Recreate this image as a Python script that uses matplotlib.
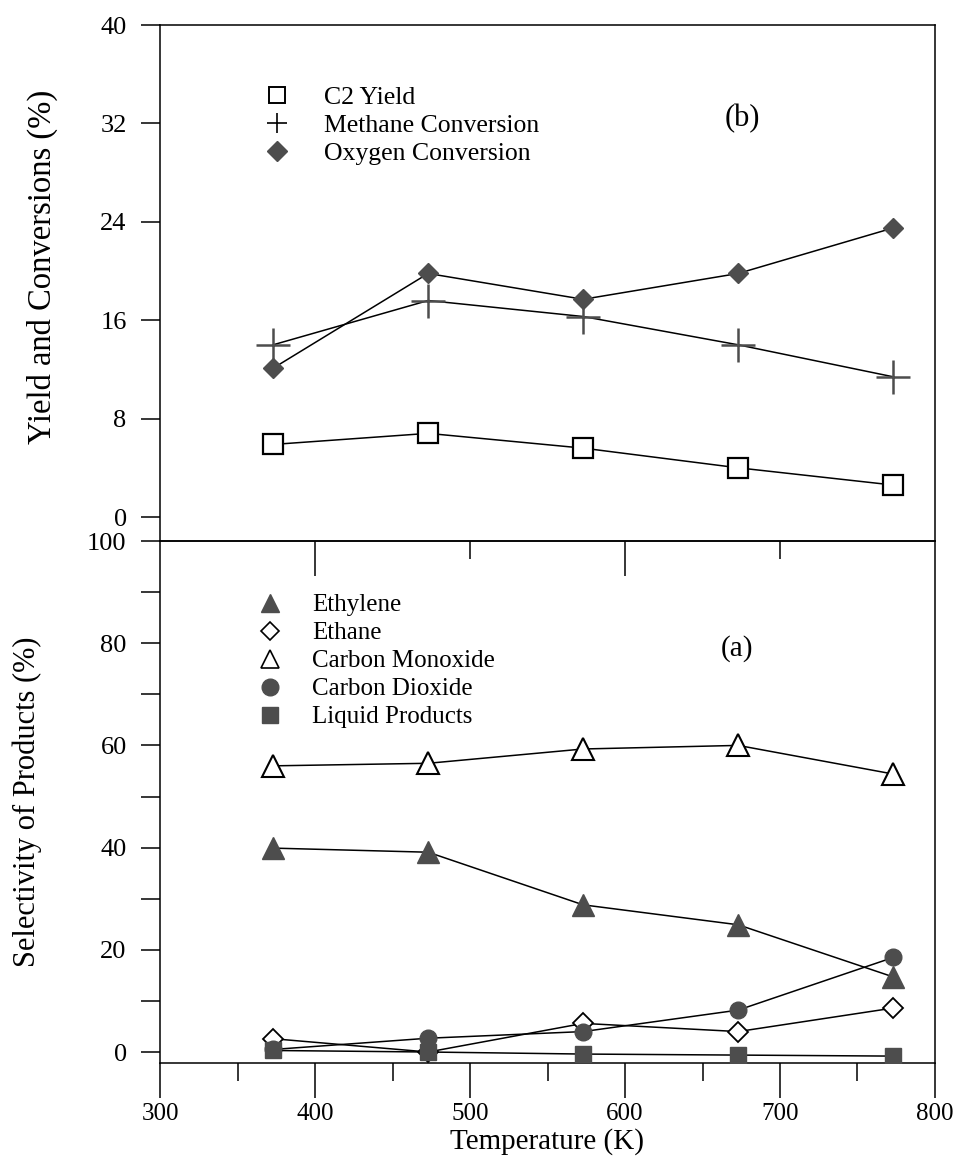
import matplotlib
matplotlib.use("Agg")
import matplotlib.pyplot as plt
from matplotlib.lines import Line2D
from matplotlib.ticker import FixedLocator, FuncFormatter

# ---------------- data ----------------
temperature = [373, 473, 573, 673, 773]

c2_yield = [5.9, 6.8, 5.6, 4.0, 2.6]
methane_conv = [14.0, 17.6, 16.3, 14.0, 11.4]
oxygen_conv = [12.1, 19.8, 17.7, 19.8, 23.5]

ethylene = [39.9, 39.1, 28.8, 24.9, 14.7]
ethane = [2.6, 0.0, 5.6, 4.0, 8.6]
carbon_monoxide = [56.0, 56.5, 59.3, 60.0, 54.4]
carbon_dioxide = [0.5, 2.7, 4.0, 8.2, 18.5]
liquid_products = [0.3, 0.0, -0.4, -0.6, -0.8]

top_labels = ["C2 Yield", "Methane Conversion", "Oxygen Conversion"]
bottom_labels = ["Ethylene", "Ethane", "Carbon Monoxide", "Carbon Dioxide", "Liquid Products"]

top_yticks = [0, 8, 16, 24, 32, 40]
bottom_yticks = [0, 20, 40, 60, 80, 100]
xticks = [300, 400, 500, 600, 700, 800]

# ---------------- style ----------------
plt.rcParams['font.family'] = ['Liberation Serif', 'DejaVu Serif']
GRAY = '#4d4d4d'
LW = 1.1

fig = plt.figure(figsize=(9.54, 11.76), dpi=100)
W, H = 954, 1176
left, right = 160, 935
top_t, mid, bot_b = 25, 541, 1063
ax_b = fig.add_axes([left / W, 1 - bot_b / H, (right - left) / W, (bot_b - mid) / H])
ax_t = fig.add_axes([left / W, 1 - mid / H, (right - left) / W, (mid - top_t) / H])
ax_t.set_zorder(3)
ax_t.patch.set_alpha(0)

# ---------------- top panel (b) ----------------
ax_t.plot(temperature, c2_yield, color='black', lw=LW, marker='s', ms=14,
          mfc='white', mec='black', mew=1.6, zorder=3)
ax_t.plot(temperature, methane_conv, color='black', lw=LW, marker='+', ms=25,
          mec=GRAY, mew=1.8, zorder=3)
ax_t.plot(temperature, oxygen_conv, color='black', lw=LW, marker='D', ms=10,
          mfc=GRAY, mec=GRAY, zorder=4)

ax_t.set_xlim(300, 800)
ax_t.set_ylim(-1.95, 40)
ax_t.yaxis.set_major_locator(FixedLocator(top_yticks))
ax_t.xaxis.set_major_locator(FixedLocator([400, 600]))
ax_t.xaxis.set_minor_locator(FixedLocator([500, 700]))
ax_t.tick_params(axis='x', which='major', direction='out', length=25, width=1.1, labelbottom=False)
ax_t.tick_params(axis='x', which='minor', direction='out', length=13, width=1.1)
ax_t.tick_params(axis='y', direction='out', length=14, width=1.1, pad=10, labelsize=19)
ax_t.set_ylabel("Yield and Conversions (%)", fontsize=23.5)
ax_t.yaxis.set_label_coords(-0.132, 0.531)
for s in ax_t.spines.values():
    s.set_linewidth(1.1)

top_handles = [
    Line2D([], [], ls='none', marker='s', ms=12, mfc='white', mec='black', mew=1.4),
    Line2D([], [], ls='none', marker='+', ms=15, mec='black', mew=1.2),
    Line2D([], [], ls='none', marker='D', ms=10, mfc=GRAY, mec=GRAY),
]
ax_t.legend(top_handles, top_labels, loc='upper left', bbox_to_anchor=(0.121, 0.902),
            frameon=False, fontsize=18.5, handlelength=1.0, handletextpad=1.33,
            labelspacing=0.2, borderaxespad=0)
ax_t.text(675.5, 32.4, "(b)", fontsize=22, ha='center', va='center')

# ---------------- bottom panel (a) ----------------
ax_b.plot(temperature, carbon_monoxide, color='black', lw=LW, marker='^', ms=16,
          mfc='white', mec='black', mew=1.5, zorder=3)
ax_b.plot(temperature, ethylene, color='black', lw=LW, marker='^', ms=16,
          mfc=GRAY, mec=GRAY, zorder=3)
ax_b.plot(temperature, ethane, color='black', lw=LW, marker='D', ms=10,
          mfc='white', mec='black', mew=1.3, zorder=3)
ax_b.plot(temperature, carbon_dioxide, color='black', lw=LW, marker='o', ms=12,
          mfc=GRAY, mec=GRAY, zorder=4)
ax_b.plot(temperature, liquid_products, color='black', lw=LW, marker='s', ms=12,
          mfc=GRAY, mec=GRAY, zorder=4)

ax_b.set_xlim(300, 800)
ax_b.set_ylim(-2.15, 100)
ax_b.xaxis.set_major_locator(FixedLocator(xticks))
ax_b.xaxis.set_minor_locator(FixedLocator([350, 450, 550, 650, 750]))
ax_b.yaxis.set_major_locator(FixedLocator(list(range(0, 101, 10))))
ax_b.yaxis.set_major_formatter(FuncFormatter(lambda v, p: f"{int(v)}" if int(v) in bottom_yticks else ""))
ax_b.tick_params(axis='x', which='major', direction='out', length=25, width=1.1, pad=4, labelsize=18)
ax_b.tick_params(axis='x', which='minor', direction='out', length=13, width=1.1)
ax_b.tick_params(axis='y', direction='out', length=14, width=1.1, pad=10, labelsize=19)
ax_b.set_xlabel("Temperature (K)", fontsize=21, labelpad=2)
ax_b.set_ylabel("Selectivity of Products (%)", fontsize=22)
ax_b.yaxis.set_label_coords(-0.152, 0.5)
for s in ax_b.spines.values():
    s.set_linewidth(1.1)

bottom_handles = [
    Line2D([], [], ls='none', marker='^', ms=13, mfc=GRAY, mec=GRAY),
    Line2D([], [], ls='none', marker='D', ms=9, mfc='white', mec='black', mew=1.2),
    Line2D([], [], ls='none', marker='^', ms=13, mfc='white', mec='black', mew=1.2),
    Line2D([], [], ls='none', marker='o', ms=12, mfc=GRAY, mec=GRAY),
    Line2D([], [], ls='none', marker='s', ms=11, mfc=GRAY, mec=GRAY),
]
ax_b.legend(bottom_handles, bottom_labels, loc='upper left', bbox_to_anchor=(0.113, 0.918),
            frameon=False, fontsize=18, handlelength=1.0, handletextpad=1.18,
            labelspacing=0.22, borderaxespad=0)
ax_b.text(672.3, 79, "(a)", fontsize=21, ha='center', va='center')

fig.savefig("out.png", dpi=100)
